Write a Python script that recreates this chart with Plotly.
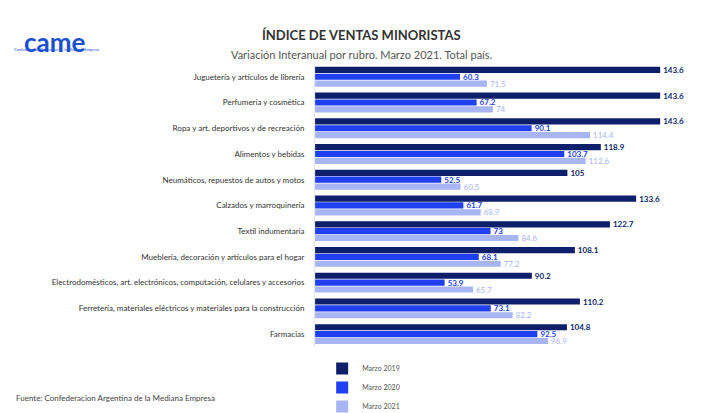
import plotly.graph_objects as go

categories = [
    "Juguetería y artículos de librería",
    "Perfumería y cosmética",
    "Ropa y art. deportivos y de recreación",
    "Alimentos y bebidas",
    "Neumáticos, repuestos de autos y motos",
    "Calzados y marroquinería",
    "Textil indumentaria",
    "Mueblería, decoración y artículos para el hogar",
    "Electrodomésticos, art. electrónicos, computación, celulares y accesorios",
    "Ferretería, materiales eléctricos y materiales para la construcción",
    "Farmacias",
]
marzo_2019 = [143.6, 143.6, 143.6, 118.9, 105, 133.6, 122.7, 108.1, 90.2, 110.2, 104.8]
marzo_2020 = [60.3, 67.2, 90.1, 103.7, 52.5, 61.7, 73, 68.1, 53.9, 73.1, 92.5]
marzo_2021 = [71.5, 74, 114.4, 112.6, 60.5, 68.9, 84.6, 77.2, 65.7, 82.2, 96.9]

series = [
    ("Marzo 2019", marzo_2019, "#0d1f6b", True),
    ("Marzo 2020", marzo_2020, "#1f3ff0", True),
    ("Marzo 2021", marzo_2021, "#a7b5f5", False),
]

fig = go.Figure()
for name, vals, col, bold in series:
    txt = [f"<b>{v:g}</b>" if bold else f"{v:g}" for v in vals]
    fig.add_trace(go.Bar(
        y=categories, x=vals, name=name, orientation="h",
        marker=dict(color=col, line=dict(width=0)),
        text=txt, textposition="outside", cliponaxis=False,
        constraintext="none",
        textfont=dict(color=col, size=8, family="Lato"),
    ))

fig.update_layout(
    width=706, height=413,
    margin=dict(l=0, r=0, t=0, b=0),
    paper_bgcolor="white", plot_bgcolor="white",
    barmode="group", bargap=0.2, bargroupgap=0.1,
    font=dict(family="Lato", size=8, color="#333"),
    xaxis=dict(domain=[0.435, 1], range=[0, 166], visible=False),
    yaxis=dict(domain=[0.163, 0.862], autorange="reversed", ticks="",
               showline=True, linecolor="#e6e6e6", ticklabelstandoff=8,
               tickfont=dict(size=8, color="#333")),
    legend=dict(x=0.445, y=0.145, xanchor="left", yanchor="top",
                font=dict(size=7, color="#555"), traceorder="normal",
                itemwidth=30, tracegroupgap=0),
    showlegend=True,
)

fig.add_annotation(text="<b>ÍNDICE DE VENTAS MINORISTAS</b>", x=0.5, y=1 - 17/413,
                   xref="paper", yref="paper", showarrow=False,
                   font=dict(size=13, color="#333", family="Lato"))
fig.add_annotation(text="Variación Interanual por rubro. Marzo 2021. Total país.",
                   x=0.5, y=1 - 39/413, xref="paper", yref="paper", showarrow=False,
                   font=dict(size=11, color="#555", family="Lato"))
fig.add_annotation(text="Fuente: Confederacion Argentina de la Mediana Empresa",
                   x=0.008, y=1 - 405/413, xref="paper", yref="paper", showarrow=False,
                   xanchor="left", font=dict(size=8, color="#444", family="Lato"))
fig.add_annotation(text="<b>came</b>", x=0.02, y=1 - 16/413, xref="paper", yref="paper",
                   showarrow=False, xanchor="left",
                   font=dict(size=26, color="#1a4fd0", family="Lato"))
fig.add_annotation(text="Confederación Argentina de la Mediana Empresa", x=0.006, y=1 - 38/413,
                   xref="paper", yref="paper", showarrow=False, xanchor="left",
                   font=dict(size=4, color="#1a4fd0", family="Lato"))

fig.write_html("out.html")
